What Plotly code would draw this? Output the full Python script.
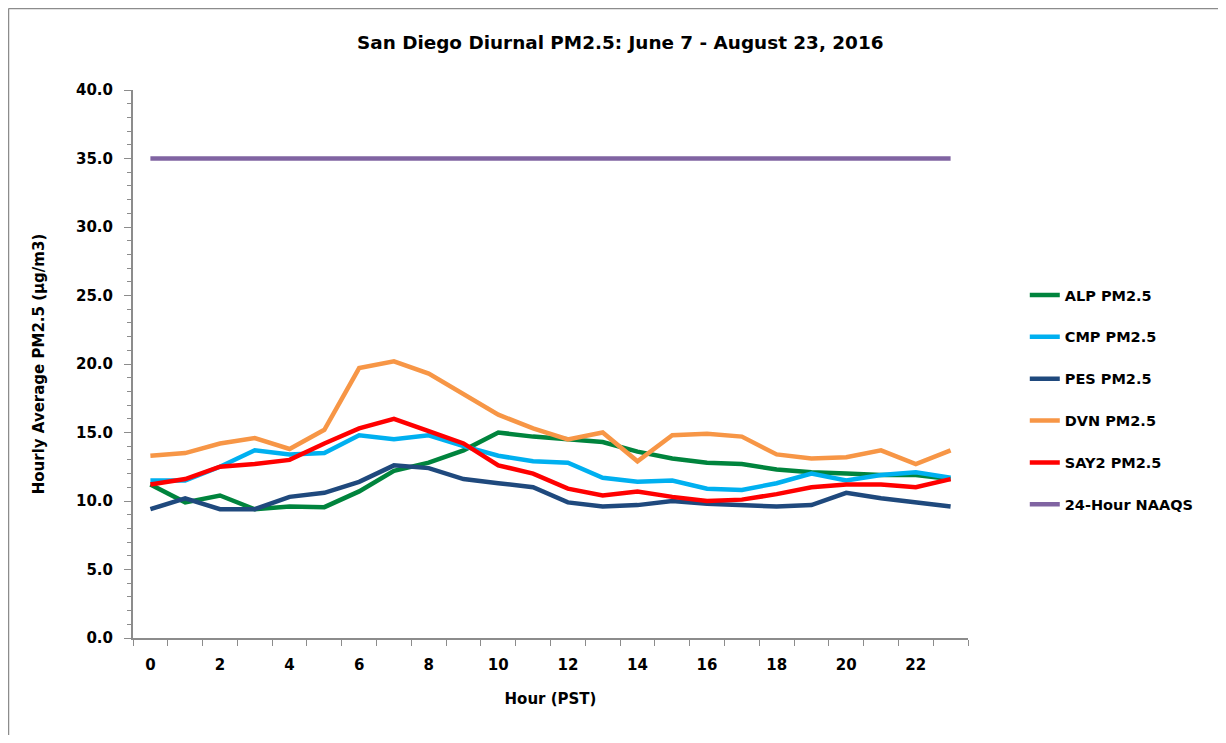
import plotly.graph_objects as go

# **** Data
hours = [str(h) for h in range(24)]
hour_labels = [str(h) if h % 2 == 0 else "" for h in range(24)]

alp = [11.2, 9.9, 10.4, 9.4, 9.6, 9.55, 10.7, 12.2, 12.8, 13.7, 15.0, 14.7,
       14.5, 14.3, 13.6, 13.1, 12.8, 12.7, 12.3, 12.1, 12.0, 11.9, 11.9, 11.6]
cmp = [11.5, 11.5, 12.5, 13.7, 13.4, 13.5, 14.8, 14.5, 14.8, 14.0, 13.3, 12.9,
       12.8, 11.7, 11.4, 11.5, 10.9, 10.8, 11.3, 12.0, 11.5, 11.9, 12.1, 11.7]
pes = [9.4, 10.2, 9.4, 9.4, 10.3, 10.6, 11.4, 12.6, 12.4, 11.6, 11.3, 11.0,
       9.9, 9.6, 9.7, 10.0, 9.8, 9.7, 9.6, 9.7, 10.6, 10.2, 9.9, 9.6]
dvn = [13.3, 13.5, 14.2, 14.6, 13.8, 15.2, 19.7, 20.2, 19.3, 17.8, 16.3, 15.3,
       14.5, 15.0, 12.9, 14.8, 14.9, 14.7, 13.4, 13.1, 13.2, 13.7, 12.7, 13.7]
say2 = [11.2, 11.6, 12.5, 12.7, 13.0, 14.2, 15.3, 16.0, 15.1, 14.2, 12.6, 12.0,
        10.9, 10.4, 10.7, 10.3, 10.0, 10.1, 10.5, 11.0, 11.2, 11.2, 11.0, 11.6]
naaqs = [35.0] * 24

series_names = ["ALP PM2.5", "CMP PM2.5", "PES PM2.5", "DVN PM2.5", "SAY2 PM2.5", "24-Hour NAAQS"]
series_values = [alp, cmp, pes, dvn, say2, naaqs]
series_colors = ["#00843D", "#00B0F0", "#1F497D", "#F79646", "#FF0000", "#8064A2"]

font_family = "DejaVu Sans, sans-serif"
axis_color = "#8c8c8c"

# figure size (page body has an 8px margin)
fig_w, fig_h = 1210, 727
m_l, m_t, plot_w, plot_h = 125, 82, 835, 548

# **** Figure
fig = go.Figure()

for i, (name, values) in enumerate(zip(series_names, series_values)):
    fig.add_trace(go.Scatter(
        x=hours,
        y=values,
        mode="lines",
        name="<b>" + name + "</b>",
        legendgroup=name,
        line=dict(color=series_colors[i], width=4.5),
    ))

fig.update_layout(
    width=fig_w,
    height=fig_h,
    margin=dict(l=m_l, r=fig_w - m_l - plot_w, t=m_t, b=fig_h - m_t - plot_h, autoexpand=False),
    paper_bgcolor="white",
    plot_bgcolor="white",
    font=dict(family=font_family, size=15, color="black"),
    title=dict(
        text="<b>San Diego Diurnal PM2.5: June 7 - August 23, 2016</b>",
        x=0.506, xanchor="center", y=0.953, yanchor="middle",
        font=dict(size=18.4),
    ),
    legend=dict(
        x=1.068, xanchor="left", y=0.655, yanchor="top",
        font=dict(size=14.5),
        tracegroupgap=20,
        bgcolor="rgba(0,0,0,0)",
    ),
    showlegend=True,
)

fig.update_xaxes(
    type="category",
    tickmode="array",
    tickvals=hours,
    ticktext=["<b>" + t + "</b>" if t else "" for t in hour_labels],
    tickson="boundaries",
    ticks="outside",
    ticklen=6,
    tickcolor=axis_color,
    showline=True,
    linecolor=axis_color,
    linewidth=2,
    showgrid=False,
    zeroline=False,
    range=[-0.5, 23.5],
    tickfont=dict(size=15),
    ticklabelstandoff=12,
    title=dict(text="<b>Hour (PST)</b>", font=dict(size=15), standoff=20),
)

fig.update_yaxes(
    range=[0, 40],
    tick0=0,
    dtick=5,
    tickformat=".1f",
    ticks="outside",
    ticklen=7,
    tickcolor=axis_color,
    showline=True,
    linecolor=axis_color,
    linewidth=2,
    showgrid=False,
    zeroline=False,
    tickfont=dict(size=15),
    tickprefix="<b>",
    ticksuffix="</b>",
    ticklabelstandoff=8,
    minor=dict(dtick=1, ticks="outside", ticklen=4, tickcolor=axis_color),
    title=dict(text="<b>Hourly Average PM2.5 (µg/m3)</b>", font=dict(size=15), standoff=28),
)

# chart frame (Excel-style border, cropped at right/bottom)
frame_x = (0.5 - m_l) / plot_w
frame_y = (m_t + plot_h - 0.5) / plot_h
fig.add_shape(type="line", xref="paper", yref="paper",
              x0=frame_x, x1=frame_x, y0=-0.3, y1=frame_y,
              line=dict(color="#8c8c8c", width=1.5))
fig.add_shape(type="line", xref="paper", yref="paper",
              x0=frame_x, x1=1.4, y0=frame_y, y1=frame_y,
              line=dict(color="#8c8c8c", width=1.5))

fig.write_html("out.html")
